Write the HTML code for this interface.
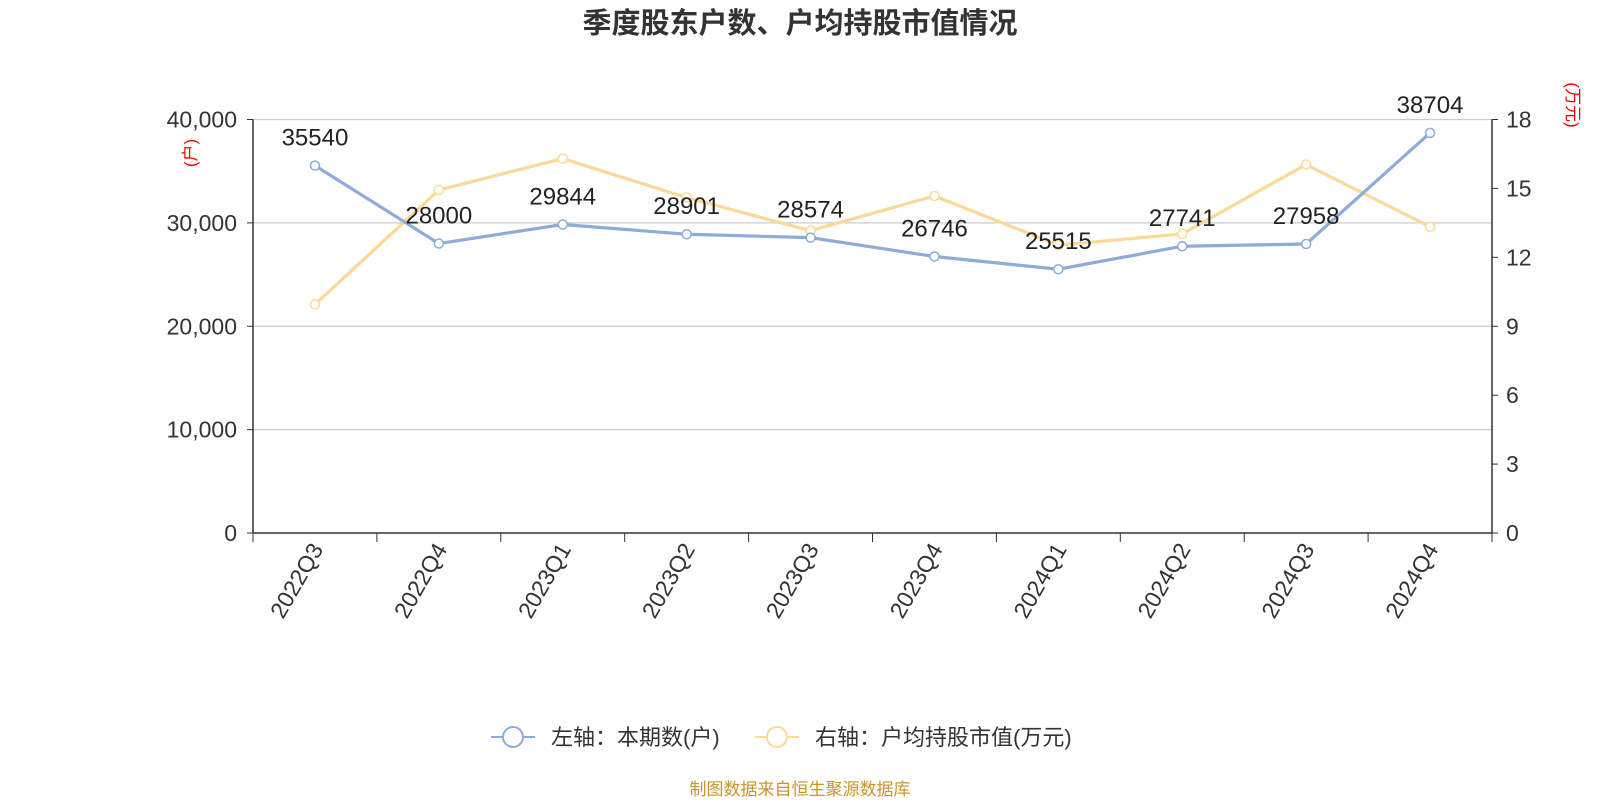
<!DOCTYPE html>
<html><head><meta charset="utf-8"><style>
body{margin:0;background:#fff;font-family:"Liberation Sans","Noto Sans CJK SC",sans-serif}
svg text{font-family:"Liberation Sans","Noto Sans CJK SC",sans-serif}
</style></head><body>
<svg id="c" width="1600" height="800" xmlns="http://www.w3.org/2000/svg">
<text x="800" y="33" text-anchor="middle" font-size="29" font-weight="bold" fill="#333">季度股东户数、户均持股市值情况</text>
<text transform="translate(196,153) rotate(-90)" text-anchor="middle" font-size="17" fill="#e00">(户)</text>
<text transform="translate(1567,105) rotate(90)" text-anchor="middle" font-size="17" fill="#e00">(万元)</text>
<g>
<g><line x1="491" y1="737" x2="535" y2="737" stroke="#8eacd9" stroke-width="2"/><circle cx="513" cy="737" r="10" fill="#fff" stroke="#8eacd9" stroke-width="2"/><text x="551" y="745" font-size="22" fill="#333">左轴：本期数(户)</text></g>
<g><line x1="755" y1="737" x2="799" y2="737" stroke="#fdd997" stroke-width="2"/><circle cx="777" cy="737" r="10" fill="#fff" stroke="#fdd997" stroke-width="2"/><text x="815" y="745" font-size="22" fill="#333">右轴：户均持股市值(万元)</text></g>
</g>
<text x="800" y="795" text-anchor="middle" font-size="17" fill="#c8952c">制图数据来自恒生聚源数据库</text>
</svg>
<script>
const categories=["2022Q3","2022Q4","2023Q1","2023Q2","2023Q3","2023Q4","2024Q1","2024Q2","2024Q3","2024Q4"];
const holders=[35540,28000,29844,28901,28574,26746,25515,27741,27958,38704];
const avgValue=[9.95,14.93,16.3,14.6,13.16,14.67,12.53,13.02,16.04,13.33];
const leftTicks=[0,10000,20000,30000,40000];
const rightTicks=[0,3,6,9,12,15,18];
const L=253,R=1492,T=119.5,B=533;
const svg=document.getElementById('c');
const NS="http://www.w3.org/2000/svg";
function mk(tag,attrs,parent){const e=document.createElementNS(NS,tag);for(const k in attrs)e.setAttribute(k,attrs[k]);(parent||svg).appendChild(e);return e;}
const bw=(R-L)/categories.length;
const xs=i=>L+bw*(i+0.5);
const yl=v=>B-(v/40000)*(B-T);
const yr=v=>B-(v/18)*(B-T);
leftTicks.forEach(t=>{
  const g=mk('line',{x1:L,x2:R,y1:yl(t),y2:yl(t),stroke:t?'#ccc':'#333','stroke-width':t?1.2:1.5});
  
  
  mk('line',{x1:L-6,x2:L,y1:yl(t),y2:yl(t),stroke:'#333'});
  const tx=mk('text',{x:L-16,y:yl(t)+8,'text-anchor':'end','font-size':23,fill:'#333'});
  tx.textContent=t.toLocaleString('en-US');
  
  
});
rightTicks.forEach(t=>{
  mk('line',{x1:R,x2:R+6,y1:yr(t),y2:yr(t),stroke:'#333'});
  const tx=mk('text',{x:R+14,y:yr(t)+8,'font-size':23,fill:'#333'});
  tx.textContent=t;
  
  
});
mk('line',{x1:L,x2:L,y1:T,y2:B,stroke:'#333','stroke-width':1.5});
mk('line',{x1:R,x2:R,y1:T,y2:B,stroke:'#333','stroke-width':1.5});
for(let i=0;i<=categories.length;i++)mk('line',{x1:L+bw*i,x2:L+bw*i,y1:B,y2:B+9,stroke:'#333'});
categories.forEach((c,i)=>{
  const tx=mk('text',{transform:`translate(${xs(i)+9},${B+16}) rotate(-60)`,'text-anchor':'end','font-size':23,fill:'#333'});
  tx.textContent=c;
  
  
});
function series(vals,yf,color,name){
  const p=mk('polyline',{points:vals.map((v,i)=>xs(i)+','+yf(v)).join(' '),fill:'none',stroke:color,'stroke-width':3.2});
  
  
  vals.forEach((v,i)=>{
    const c=mk('circle',{cx:xs(i),cy:yf(v),r:4.5,fill:'#fff',stroke:color,'stroke-width':1.5});
    
    
  });
}
series(avgValue,yr,'#fdd997','avg-value');
series(holders,yl,'#8eacd9','holders');
holders.forEach((v,i)=>{
  const tx=mk('text',{x:xs(i),y:yl(v)-20,'text-anchor':'middle','font-size':24,fill:'#222'});
  tx.textContent=v;
  
  
});
</script>
</body></html>
